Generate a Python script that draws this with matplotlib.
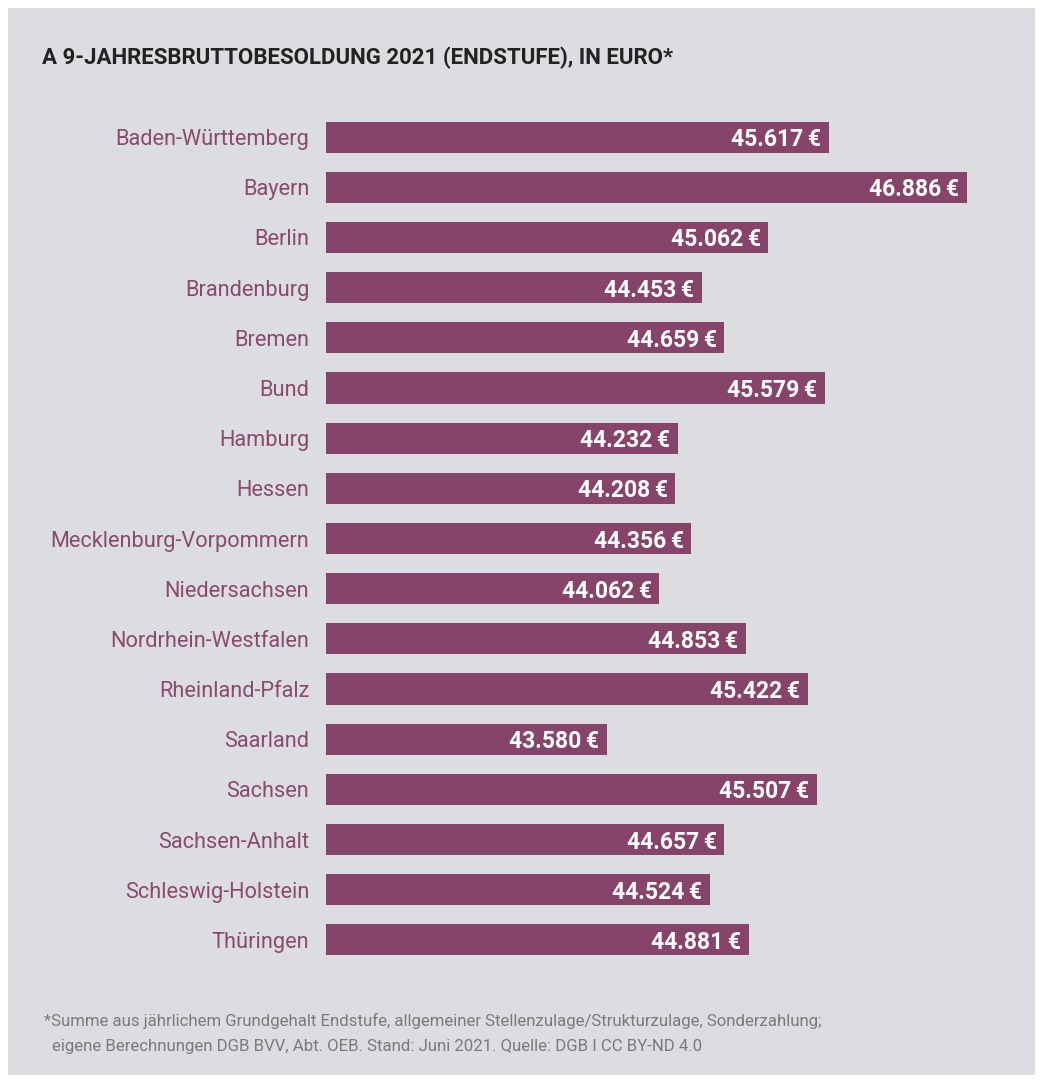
import matplotlib
matplotlib.use("Agg")
import matplotlib.pyplot as plt
from matplotlib.patches import Rectangle

laender = ["Baden-Württemberg", "Bayern", "Berlin", "Brandenburg", "Bremen", "Bund",
           "Hamburg", "Hessen", "Mecklenburg-Vorpommern", "Niedersachsen",
           "Nordrhein-Westfalen", "Rheinland-Pfalz", "Saarland", "Sachsen",
           "Sachsen-Anhalt", "Schleswig-Holstein", "Thüringen"]
werte = [45617, 46886, 45062, 44453, 44659, 45579, 44232, 44208, 44356, 44062,
         44853, 45422, 43580, 45507, 44657, 44524, 44881]

fam = ["Roboto", "DejaVu Sans"]
plt.rcParams["font.family"] = fam

W, H = 1041, 1082
fig = plt.figure(figsize=(W / 100, H / 100), dpi=100)
fig.patch.set_facecolor("white")
fig.patches.append(Rectangle((8 / W, 1 - 1075 / H), (1035 - 8) / W, (1075 - 8) / H,
                             transform=fig.transFigure, facecolor="#dcdde0",
                             edgecolor="none", zorder=-5))

bar_col = "#86446a"
ax = fig.add_axes([326 / W, 1 - 965 / H, (1000 - 326) / W, (965 - 112) / H])
ax.set_zorder(2)
ax.set_facecolor("none")
pos = list(range(len(laender)))
ax.barh(pos, [w - 41000 for w in werte], left=41000, height=0.62, color=bar_col)
ax.set_xlim(41000, 41000 + 674 / 0.1089)
ax.set_ylim(len(laender) - 0.5, -0.5)
for s in ax.spines.values():
    s.set_visible(False)
ax.set_xticks([])
ax.set_yticks(pos)
ax.set_yticklabels(laender, fontsize=15.7, color="#8a4a6e")
ax.tick_params(axis="y", length=0, pad=12)

for i, w in enumerate(werte):
    txt = f"{w:,}".replace(",", ".") + "\u2009€"
    ax.annotate(txt, (w, i), xytext=(-5.5, 0), textcoords="offset points",
                ha="right", va="center_baseline", color="white",
                fontsize=16.5, fontweight="bold")

fig.text(42 / W, 1 - 58 / H, "A 9-JAHRESBRUTTOBESOLDUNG 2021 (ENDSTUFE), IN EURO*",
         fontsize=16, fontweight="bold", color="#222222", va="center")
fig.text(44 / W, 1 - 1021 / H,
         "*Summe aus jährlichem Grundgehalt Endstufe, allgemeiner Stellenzulage/Strukturzulage, Sonderzahlung;",
         fontsize=12.1, color="#7a7a7a", va="center")
fig.text(52 / W, 1 - 1046 / H,
         "eigene Berechnungen DGB BVV, Abt. OEB. Stand: Juni 2021. Quelle: DGB I CC BY-ND 4.0",
         fontsize=12.1, color="#7a7a7a", va="center")

fig.savefig("out.png", dpi=100, facecolor=fig.get_facecolor())
